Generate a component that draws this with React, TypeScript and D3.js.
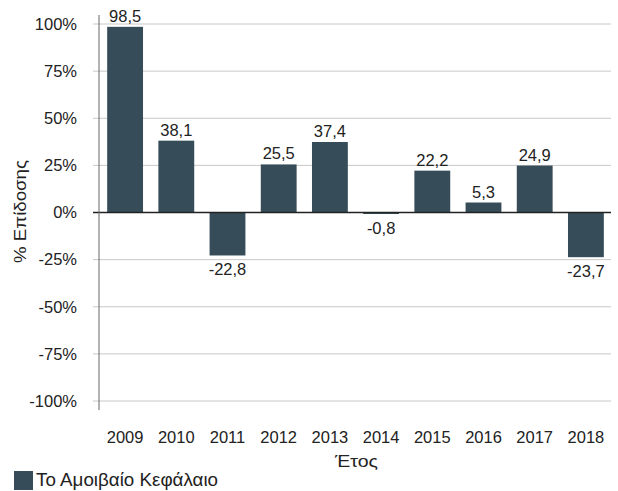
import React from "react";
import * as d3 from "d3";

const years = ["2009", "2010", "2011", "2012", "2013", "2014", "2015", "2016", "2017", "2018"];
const returns = [98.5, 38.1, -22.8, 25.5, 37.4, -0.8, 22.2, 5.3, 24.9, -23.7];
const yTicks = [-100, -75, -50, -25, 0, 25, 50, 75, 100];
const seriesName = "Το Αμοιβαίο Κεφάλαιο";
const xTitle = "Έτος";
const yTitle = "% Επίδοσης";

const W = 618;
const H = 491;
const BAR = "#374c59";
const FONT = "'Liberation Sans', Arial, sans-serif";
const FS = 16.5;

export default function App() {
  const x = d3.scaleBand<string>().domain(years).range([99.5, 611.5]).paddingInner(0.3).paddingOuter(0.15);
  const y = d3.scaleLinear().domain([-100, 100]).range([401, 24]);
  const fmt = (v: number) => v.toFixed(1).replace(".", ",");
  return (
    <svg width={W} height={H} style={{ position: "absolute", left: 0, top: 0 }} fontFamily={FONT}>
      <rect width={W} height={H} fill="#fff" />
      {yTicks.filter((t) => t !== 0).map((t) => (
        <line key={t} x1={93} x2={611} y1={y(t)} y2={y(t)} stroke="#c8c8c8" strokeWidth={1} />
      ))}
      {yTicks.map((t) => (
        <text key={"l" + t} x={77} y={y(t)} dy="0.35em" textAnchor="end" fontSize={FS} fill="#222">
          {t}%
        </text>
      ))}
      {years.map((yr, i) => {
        const v = returns[i];
        const x0 = x(yr)!;
        const top = Math.min(y(v), y(0));
        const h = Math.abs(y(v) - y(0));
        return (
          <g key={yr}>
            <rect x={x0} y={top} width={x.bandwidth()} height={h} fill={BAR} />
            <text
              x={x0 + x.bandwidth() / 2}
              y={v >= 0 ? y(v) - 5 : y(v) + 20}
              textAnchor="middle"
              fontSize={FS}
              fill="#222"
            >
              {fmt(v)}
            </text>
            <text x={x0 + x.bandwidth() / 2} y={443} textAnchor="middle" fontSize={FS} fill="#222">
              {yr}
            </text>
          </g>
        );
      })}
      <line x1={93} x2={611} y1={y(0)} y2={y(0)} stroke="#222" strokeWidth={1.5} />
      <line x1={99} x2={99} y1={15} y2={410} stroke="#666" strokeWidth={1} />
      <text x={335} y={467} fontSize={17} fill="#222" textLength={43} lengthAdjust="spacingAndGlyphs">
        {xTitle}
      </text>
      <text
        transform={`translate(25.5,263) rotate(-90)`}
        fontSize={17}
        fill="#222"
        textLength={103}
        lengthAdjust="spacingAndGlyphs"
      >
        {yTitle}
      </text>
      <rect x={14} y={471} width={19} height={19} fill={BAR} />
      <text x={36} y={486} fontSize={18} fill="#222" textLength={182} lengthAdjust="spacingAndGlyphs">
        {seriesName}
      </text>
    </svg>
  );
}
